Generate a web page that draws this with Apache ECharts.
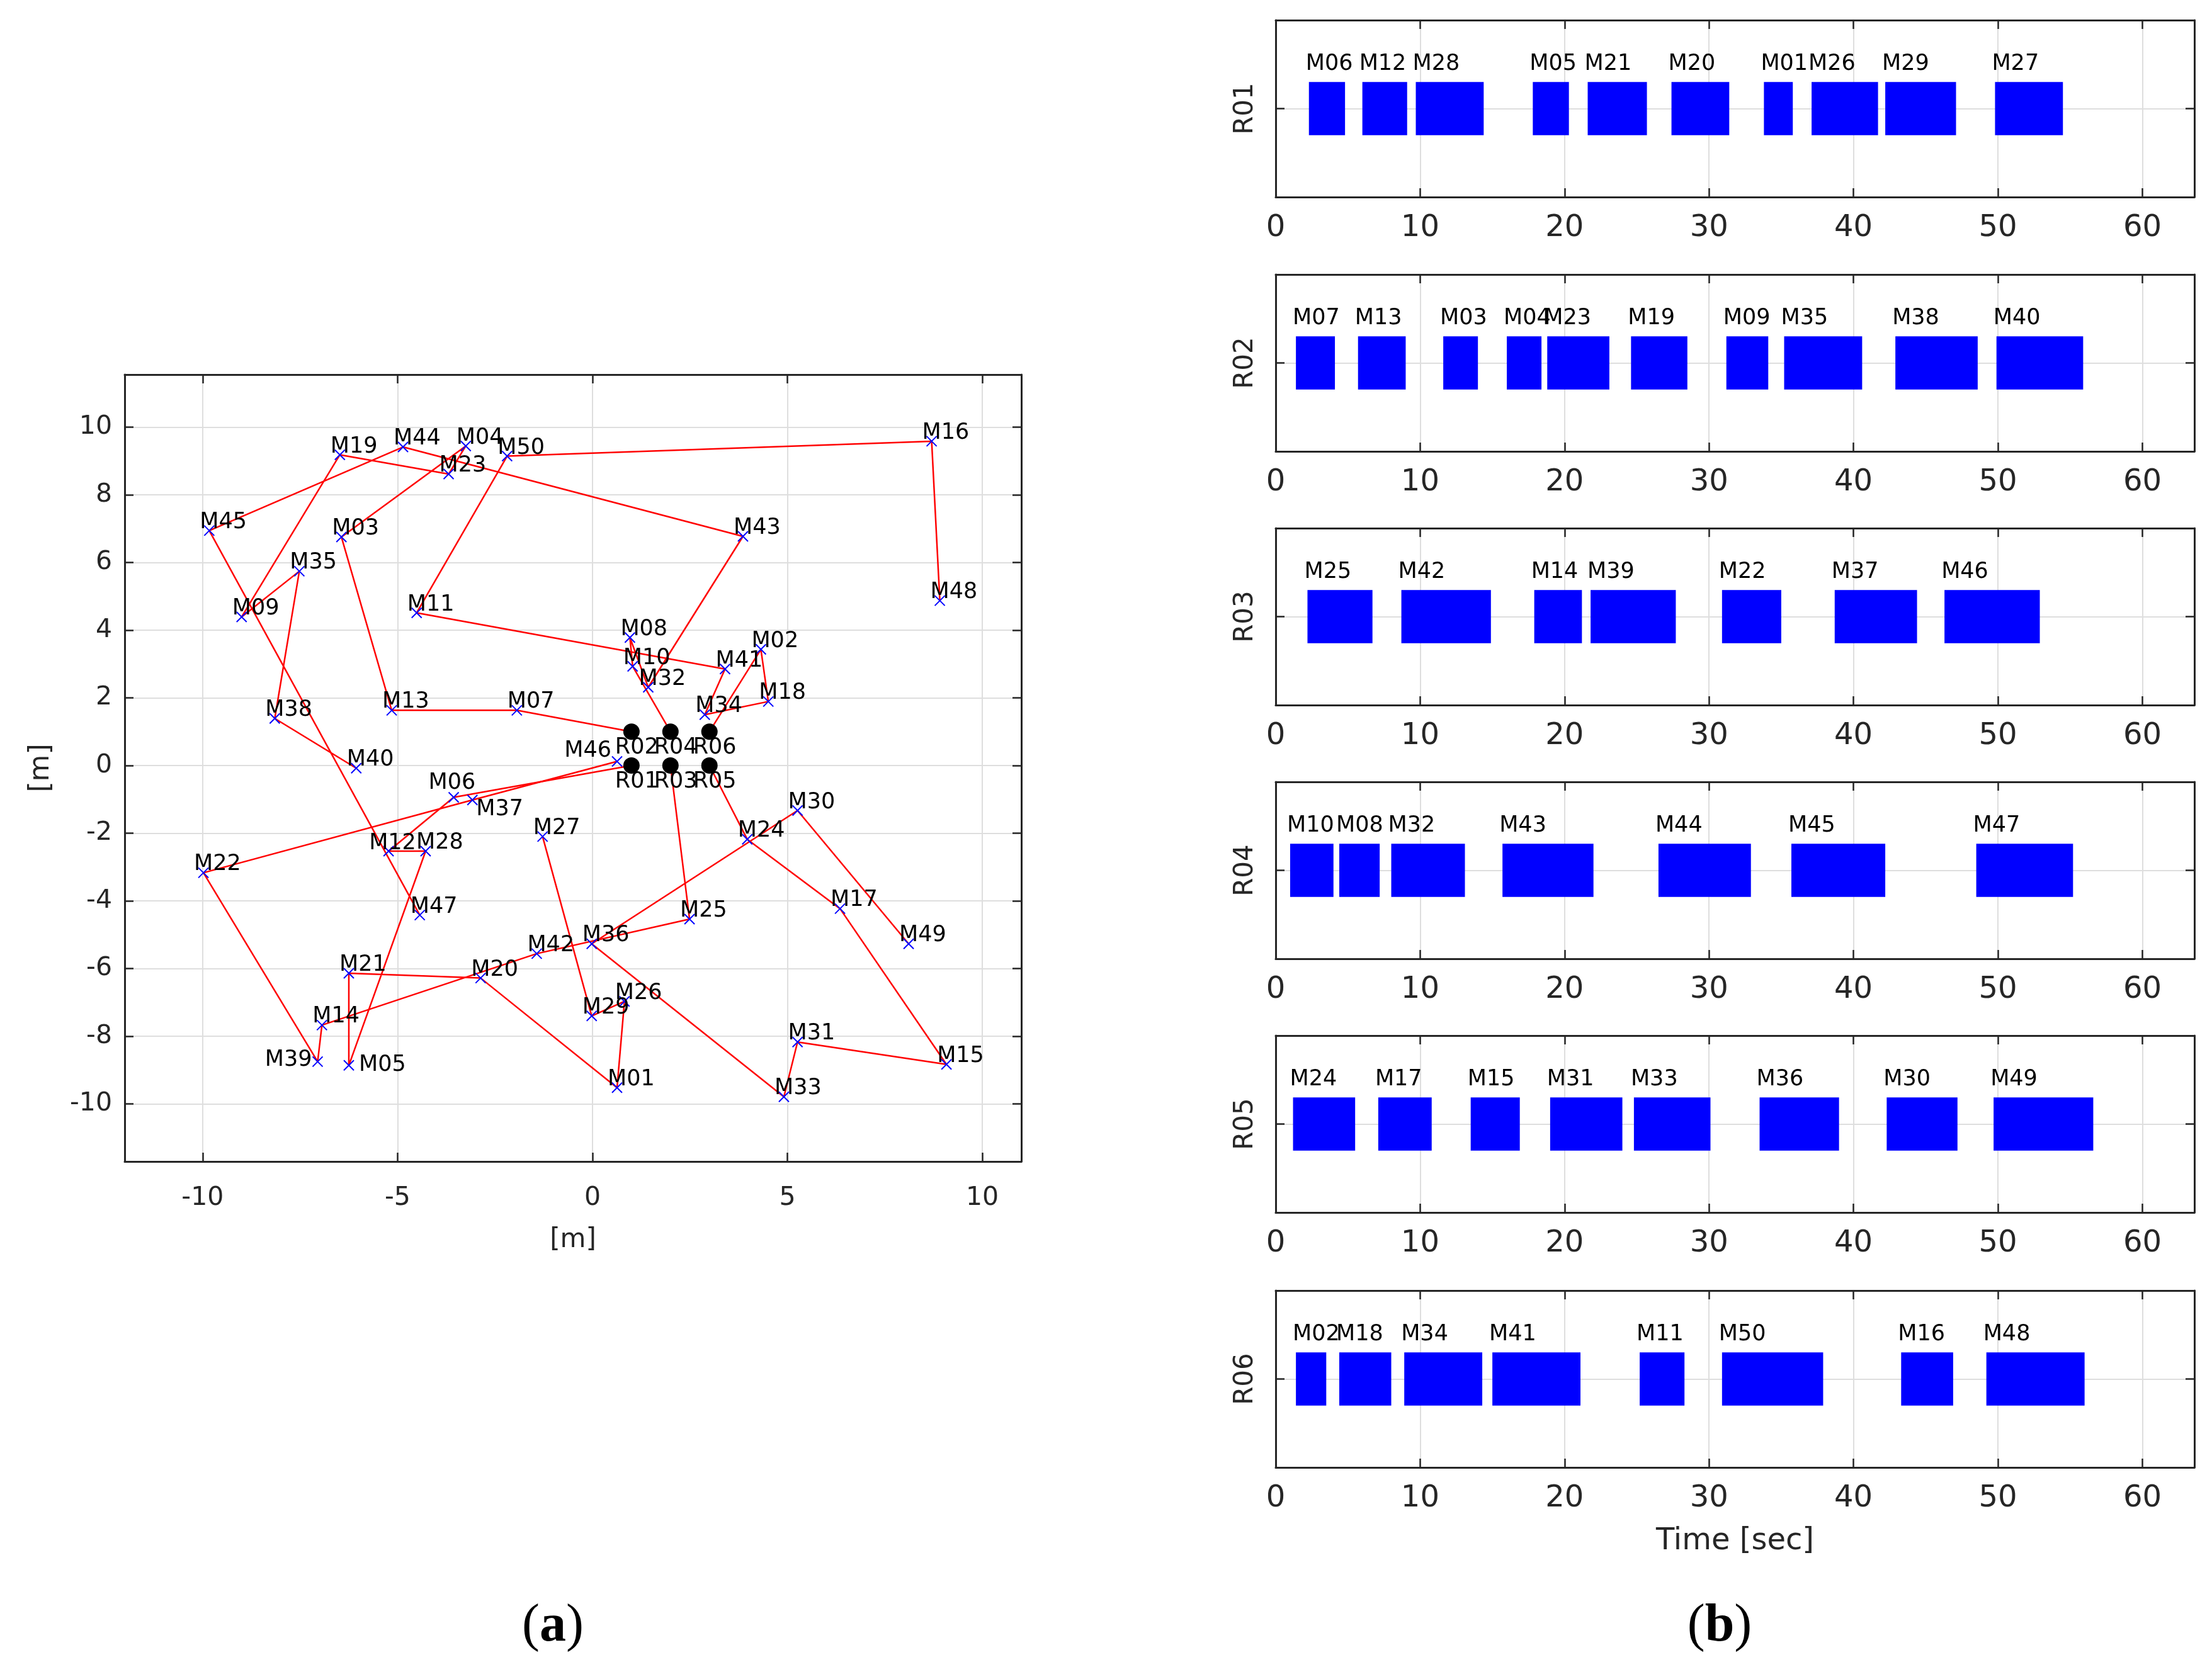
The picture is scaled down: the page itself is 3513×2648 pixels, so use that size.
<!DOCTYPE html>
<html><head><meta charset="utf-8">
<script src="https://cdn.jsdelivr.net/npm/echarts@6/dist/echarts.min.js"></script>
<style>html,body{margin:0;padding:0;background:#fff}#c{width:3513px;height:2648px}</style>
</head><body><div id="c"></div>
<script>
// ---------- DATA ----------
const taskNames = ['M01','M02','M03','M04','M05','M06','M07','M08','M09','M10',
  'M11','M12','M13','M14','M15','M16','M17','M18','M19','M20',
  'M21','M22','M23','M24','M25','M26','M27','M28','M29','M30',
  'M31','M32','M33','M34','M35','M36','M37','M38','M39','M40',
  'M41','M42','M43','M44','M45','M46','M47','M48','M49','M50'];
const taskX = [0.63, 4.32, -6.44, -3.25, -6.25, -3.56, -1.94, 0.96, -9.0, 1.03,
  -4.51, -5.23, -5.15, -6.94, 9.08, 8.70, 6.35, 4.51, -6.48, -2.87,
  -6.25, -9.98, -3.69, 3.97, 2.49, 0.82, -1.28, -4.28, -0.02, 5.26,
  5.26, 1.43, 4.91, 2.88, -7.52, -0.02, -3.08, -8.15, -7.05, -6.06,
  3.40, -1.43, 3.86, -4.86, -9.83, 0.63, -4.43, 8.91, 8.11, -2.19];
const taskY = [-9.52, 3.43, 6.75, 9.44, -8.86, -0.94, 1.63, 3.78, 4.39, 2.93,
  4.51, -2.53, 1.63, -7.67, -8.83, 9.58, -4.23, 1.89, 9.18, -6.28,
  -6.14, -3.17, 8.61, -2.18, -4.54, -6.97, -2.10, -2.53, -7.40, -1.33,
  -8.17, 2.31, -9.79, 1.50, 5.74, -5.27, -1.02, 1.39, -8.75, -0.08,
  2.85, -5.56, 6.77, 9.41, 6.94, 0.12, -4.42, 4.87, -5.27, 9.14];

const robotNames = ['R01','R02','R03','R04','R05','R06'];
const robotX = [1, 1, 2, 2, 3, 3];
const robotY = [0, 1, 0, 1, 0, 1];

const r01Tasks = ['M06','M12','M28','M05','M21','M20','M01','M26','M29','M27'];
const r01Start = [2.3, 6.0, 9.7, 17.8, 21.6, 27.4, 33.8, 37.1, 42.2, 49.8];
const r01End   = [4.8, 9.1, 14.4, 20.3, 25.7, 31.4, 35.8, 41.7, 47.1, 54.5];

const r02Tasks = ['M07','M13','M03','M04','M23','M19','M09','M35','M38','M40'];
const r02Start = [1.4, 5.7, 11.6, 16.0, 18.8, 24.6, 31.2, 35.2, 42.9, 49.9];
const r02End   = [4.1, 9.0, 14.0, 18.4, 23.1, 28.5, 34.1, 40.6, 48.6, 55.9];

const r03Tasks = ['M25','M42','M14','M39','M22','M37','M46'];
const r03Start = [2.2, 8.7, 17.9, 21.8, 30.9, 38.7, 46.3];
const r03End   = [6.7, 14.9, 21.2, 27.7, 35.0, 44.4, 52.9];

const r04Tasks = ['M10','M08','M32','M43','M44','M45','M47'];
const r04Start = [1.0, 4.4, 8.0, 15.7, 26.5, 35.7, 48.5];
const r04End   = [4.0, 7.2, 13.1, 22.0, 32.9, 42.2, 55.2];

const r05Tasks = ['M24','M17','M15','M31','M33','M36','M30','M49'];
const r05Start = [1.2, 7.1, 13.5, 19.0, 24.8, 33.5, 42.3, 49.7];
const r05End   = [5.5, 10.8, 16.9, 24.0, 30.1, 39.0, 47.2, 56.6];

const r06Tasks = ['M02','M18','M34','M41','M11','M50','M16','M48'];
const r06Start = [1.4, 4.4, 8.9, 15.0, 25.2, 30.9, 43.3, 49.2];
const r06End   = [3.5, 8.0, 14.3, 21.1, 28.3, 37.9, 46.9, 56.0];

const mapXTicks = [-10, -5, 0, 5, 10];
const mapYTicks = [-10, -8, -6, -4, -2, 0, 2, 4, 6, 8, 10];
const timeTicks = [0, 10, 20, 30, 40, 50, 60];

// ---------- STYLE ----------
const FONT = 'DejaVu Sans';
const AX = '#262626';
const GRID = '#dedede';
const labelStyleOverrides = {
  M37: [6, 15, 'left'], M05: [16, 0, 'left'], M39: [-9, -2, 'right'],
  M46: [-9, -17, 'right'], M12: [-31, -12, 'left'], M06: [-40, -23, 'left']
};
const defaultLabelOffset = [-15, -13, 'left'];

const schedules = [
  [r01Tasks, r01Start, r01End], [r02Tasks, r02Start, r02End], [r03Tasks, r03Start, r03End],
  [r04Tasks, r04Start, r04End], [r05Tasks, r05Start, r05End], [r06Tasks, r06Start, r06End]
];

function taskPos(name) {
  const i = taskNames.indexOf(name);
  return [taskX[i], taskY[i]];
}

const panelTops = [32, 436, 839, 1242, 1645, 2050];
const panelLeft = 2026, panelWidth = 1459, panelHeight = 281;

const grids = [{ left: 198, top: 595, width: 1424, height: 1250 }];
panelTops.forEach(t => grids.push({ left: panelLeft, top: t, width: panelWidth, height: panelHeight }));

function tickCfg(vals, show) {
  return { show: show, inside: true, length: 14, customValues: vals, lineStyle: { color: AX, width: 2.5 } };
}
const axisLineCfg = { show: true, onZero: false, lineStyle: { color: AX, width: 3 } };

const xAxes = [], yAxes = [];
// map axes
xAxes.push({
  type: 'value', gridIndex: 0, position: 'bottom', min: -12, max: 11,
  axisLine: axisLineCfg, axisTick: tickCfg(mapXTicks, true),
  axisLabel: { customValues: mapXTicks, fontFamily: FONT, fontSize: 41, color: AX, margin: 38 },
  splitLine: { show: true, lineStyle: { color: GRID, width: 2 } },
  name: '[m]', nameLocation: 'middle', nameGap: 104,
  nameTextStyle: { fontFamily: FONT, fontSize: 42, color: AX }
});
xAxes.push({
  type: 'value', gridIndex: 0, position: 'top', min: -12, max: 11,
  axisLine: axisLineCfg, axisTick: tickCfg(mapXTicks, true),
  axisLabel: { show: false }, splitLine: { show: false }
});
yAxes.push({
  type: 'value', gridIndex: 0, position: 'left', min: -11.7, max: 11.55,
  axisLine: axisLineCfg, axisTick: tickCfg(mapYTicks, true),
  axisLabel: { customValues: mapYTicks, fontFamily: FONT, fontSize: 41, color: AX, margin: 20 },
  splitLine: { show: true, lineStyle: { color: GRID, width: 2 } },
  name: '[m]', nameLocation: 'middle', nameGap: 110,
  nameTextStyle: { fontFamily: FONT, fontSize: 44, color: AX }
});
yAxes.push({
  type: 'value', gridIndex: 0, position: 'right', min: -11.7, max: 11.55,
  axisLine: axisLineCfg, axisTick: tickCfg(mapYTicks, true),
  axisLabel: { show: false }, splitLine: { show: false }
});
// panel axes
robotNames.forEach((rn, i) => {
  const g = i + 1;
  const last = i === robotNames.length - 1;
  xAxes.push({
    type: 'value', gridIndex: g, position: 'bottom', min: 0, max: 63.6,
    axisLine: axisLineCfg, axisTick: tickCfg(timeTicks, true),
    axisLabel: { customValues: timeTicks, fontFamily: FONT, fontSize: 48, color: AX, margin: 26 },
    splitLine: { show: true, lineStyle: { color: GRID, width: 2 } },
    name: last ? 'Time [sec]' : '', nameLocation: 'middle', nameGap: 94,
    nameTextStyle: { fontFamily: FONT, fontSize: 48, color: AX }
  });
  xAxes.push({
    type: 'value', gridIndex: g, position: 'top', min: 0, max: 63.6,
    axisLine: axisLineCfg, axisTick: tickCfg(timeTicks, true),
    axisLabel: { show: false }, splitLine: { show: false }
  });
  yAxes.push({
    type: 'value', gridIndex: g, position: 'left', min: 0.5, max: 1.5,
    axisLine: axisLineCfg, axisTick: tickCfg([1], true),
    axisLabel: { show: false },
    splitLine: { show: true, lineStyle: { color: GRID, width: 2 } },
    name: rn, nameLocation: 'middle', nameGap: 27,
    nameTextStyle: { fontFamily: FONT, fontSize: 42, color: AX }
  });
  yAxes.push({
    type: 'value', gridIndex: g, position: 'right', min: 0.5, max: 1.5,
    axisLine: axisLineCfg, axisTick: tickCfg([1], true),
    axisLabel: { show: false }, splitLine: { show: false }
  });
});

const series = [];
// routes
schedules.forEach((s, i) => {
  const pts = [[robotX[i], robotY[i]]].concat(s[0].map(taskPos));
  series.push({
    type: 'line', xAxisIndex: 0, yAxisIndex: 0, data: pts, showSymbol: false,
    lineStyle: { color: '#ff0000', width: 2.5 }, z: 2, silent: true
  });
});
// task markers with labels
series.push({
  type: 'scatter', xAxisIndex: 0, yAxisIndex: 0, z: 3,
  symbol: 'path://M0,0L10,10M10,0L0,10', symbolSize: 16,
  itemStyle: { color: '#0000ff', borderColor: '#0000ff', borderWidth: 2, opacity: 1 },
  data: taskNames.map((n, i) => {
    const o = labelStyleOverrides[n] || defaultLabelOffset;
    return {
      name: n, value: [taskX[i], taskY[i]],
      label: { offset: [o[0], o[1]], align: o[2] }
    };
  }),
  label: {
    show: true, formatter: '{b}', position: 'inside', verticalAlign: 'middle',
    fontFamily: FONT, fontSize: 35, color: '#000'
  }
});
// robots
series.push({
  type: 'scatter', xAxisIndex: 0, yAxisIndex: 0, z: 4,
  symbol: 'circle', symbolSize: 26, itemStyle: { color: '#000000', opacity: 1 },
  data: robotNames.map((n, i) => ({ name: n, value: [robotX[i], robotY[i]] })),
  label: {
    show: true, formatter: '{b}', position: 'inside', align: 'left', verticalAlign: 'middle',
    offset: [-26, 26], fontFamily: FONT, fontSize: 35, color: '#000'
  }
});
// gantt panels
schedules.forEach((s, i) => {
  const names = s[0];
  series.push({
    type: 'custom', xAxisIndex: 2 + 2 * i, yAxisIndex: 2 + 2 * i, z: 3,
    data: s[1].map((st, k) => [st, s[2][k]]),
    encode: { x: [0, 1] },
    renderItem: function (params, api) {
      const a = api.coord([api.value(0), 1.15]);
      const b = api.coord([api.value(1), 0.85]);
      const t = api.coord([api.value(0), 1.25]);
      return {
        type: 'group', children: [
          { type: 'rect', shape: { x: a[0], y: a[1], width: b[0] - a[0], height: b[1] - a[1] },
            style: { fill: '#0000ff' } },
          { type: 'text', x: t[0] - 5, y: t[1],
            style: { text: names[params.dataIndex], fontFamily: FONT, fontSize: 35, fill: '#000',
                     align: 'left', verticalAlign: 'middle' } }
        ]
      };
    }
  });
});

const richCap = {
  p: { fontFamily: 'Liberation Serif', fontSize: 84, fontWeight: 'normal', fill: '#000' },
  b: { fontFamily: 'Liberation Serif', fontSize: 84, fontWeight: 'bold', fill: '#000' }
};
const chart = echarts.init(document.getElementById('c'), null, { renderer: 'canvas' });
chart.setOption({
  animation: false,
  backgroundColor: '#ffffff',
  grid: grids,
  xAxis: xAxes,
  yAxis: yAxes,
  series: series,
  graphic: [
    { type: 'text', x: 878, y: 2584, style: {
      text: '{p|(}{b|a}{p|)}', align: 'center', verticalAlign: 'middle', fontWeight: 'normal', rich: richCap } },
    { type: 'text', x: 2731, y: 2584, style: {
      text: '{p|(}{b|b}{p|)}', align: 'center', verticalAlign: 'middle', fontWeight: 'normal', rich: richCap } }
  ]
});
</script></body></html>
